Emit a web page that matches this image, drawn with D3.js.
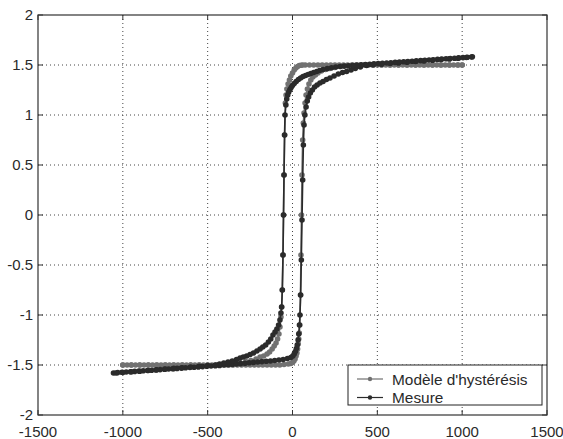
<!DOCTYPE html>
<html><head><meta charset="utf-8">
<script src="https://cdn.jsdelivr.net/npm/d3@7/dist/d3.min.js"></script>
<style>html,body{margin:0;padding:0;background:#fff;}svg{display:block;}</style>
</head><body><svg id="c" width="563" height="439"></svg>
<script>
const xTicks = [-1500,-1000,-500,0,500,1000,1500];
const yTicks = [-2,-1.5,-1,-0.5,0,0.5,1,1.5,2];
const seriesNames = ["Modèle d'hystérésis","Mesure"];

// Modèle d'hystérésis — ascending branch [H, B]
const modelUp = [[-1000,-1.5],[-975,-1.5],[-950,-1.5],[-925,-1.5],[-900,-1.5],[-875,-1.5],[-850,-1.5],[-825,-1.5],[-800,-1.5],[-775,-1.5],[-750,-1.5],[-725,-1.5],[-700,-1.5],[-675,-1.5],[-650,-1.5],[-625,-1.5],[-600,-1.5],[-575,-1.5],[-550,-1.5],[-525,-1.5],[-500,-1.5],[-475,-1.5],[-450,-1.5],[-425,-1.5],[-400,-1.5],[-375,-1.5],[-350,-1.5],[-325,-1.5],[-300,-1.5],[-275,-1.5],[-250,-1.5],[-225,-1.5],[-200,-1.5],[-175,-1.5],[-150,-1.5],[-125,-1.5],[-100,-1.5],[-75,-1.5],[-50,-1.495],[-25,-1.49],[-10,-1.485],[0,-1.475],[8,-1.46],[15,-1.44],[21,-1.41],[26,-1.38],[30,-1.34],[34,-1.29],[37,-1.24],[40,-1.18],[43,-1.1],[47,-0.8],[50,-0.4],[53,0],[56,0.4],[60,0.75],[64,0.92],[68,1.02],[74,1.12],[80,1.2],[88,1.26],[97,1.31],[108,1.35],[120,1.38],[135,1.4],[150,1.42],[170,1.44],[195,1.455],[220,1.465],[250,1.475],[285,1.485],[325,1.49],[375,1.495],[425,1.5],[475,1.5],[525,1.5],[575,1.5],[625,1.5],[675,1.5],[725,1.5],[775,1.5],[825,1.5],[875,1.5],[925,1.5],[975,1.5],[1000,1.5]];
// Modèle d'hystérésis — descending branch [H, B]
const modelDown = [[1000,1.5],[975,1.5],[950,1.5],[925,1.5],[900,1.5],[875,1.5],[850,1.5],[825,1.5],[800,1.5],[775,1.5],[750,1.5],[725,1.5],[700,1.5],[675,1.5],[650,1.5],[625,1.5],[600,1.5],[575,1.5],[550,1.5],[525,1.5],[500,1.5],[475,1.5],[450,1.5],[425,1.5],[400,1.5],[375,1.5],[350,1.5],[325,1.5],[300,1.5],[275,1.5],[250,1.5],[225,1.5],[200,1.5],[175,1.5],[150,1.5],[125,1.5],[100,1.5],[75,1.5],[60,1.5],[50,1.498],[40,1.495],[30,1.485],[20,1.47],[10,1.45],[0,1.42],[-10,1.39],[-18,1.35],[-26,1.31],[-33,1.26],[-38,1.2],[-42,1.12],[-46,0.8],[-50,0.4],[-53,0],[-56,-0.4],[-60,-0.75],[-64,-0.92],[-68,-1.02],[-74,-1.12],[-80,-1.19],[-88,-1.24],[-97,-1.28],[-108,-1.31],[-120,-1.34],[-135,-1.37],[-150,-1.39],[-170,-1.41],[-191,-1.42],[-215,-1.44],[-245,-1.455],[-275,-1.465],[-310,-1.475],[-350,-1.485],[-400,-1.49],[-450,-1.5],[-500,-1.5],[-550,-1.5],[-600,-1.5],[-650,-1.5],[-700,-1.5],[-750,-1.5],[-800,-1.5],[-850,-1.5],[-900,-1.5],[-950,-1.5],[-1000,-1.5]];

// Mesure — ascending branch [H, B]
const measUp = [[-1055,-1.58],[-1030,-1.576],[-1005,-1.573],[-980,-1.57],[-955,-1.567],[-930,-1.564],[-905,-1.561],[-880,-1.558],[-855,-1.555],[-830,-1.552],[-805,-1.549],[-780,-1.546],[-755,-1.543],[-730,-1.54],[-705,-1.537],[-680,-1.534],[-655,-1.531],[-630,-1.528],[-605,-1.525],[-580,-1.522],[-555,-1.519],[-530,-1.516],[-505,-1.513],[-480,-1.51],[-455,-1.507],[-430,-1.504],[-405,-1.5],[-380,-1.497],[-355,-1.494],[-330,-1.49],[-305,-1.486],[-280,-1.482],[-255,-1.478],[-230,-1.474],[-205,-1.47],[-180,-1.466],[-155,-1.463],[-130,-1.46],[-105,-1.455],[-80,-1.45],[-55,-1.445],[-30,-1.435],[-10,-1.425],[2,-1.41],[10,-1.39],[17,-1.365],[23,-1.335],[28,-1.3],[33,-1.25],[37,-1.19],[41,-1.1],[44,-1.0],[48,-0.8],[52,-0.45],[56,-0.05],[60,0.35],[64,0.7],[68,0.9],[73,1.0],[80,1.08],[87,1.14],[95,1.18],[105,1.22],[117,1.25],[130,1.28],[145,1.3],[162,1.32],[180,1.335],[200,1.355],[221,1.37],[245,1.39],[270,1.41],[295,1.425],[319,1.435],[345,1.45],[370,1.465],[400,1.48],[437,1.495],[475,1.502],[525,1.508],[575,1.515],[625,1.521],[675,1.528],[725,1.535],[775,1.541],[825,1.548],[875,1.555],[925,1.561],[975,1.568],[1025,1.575],[1055,1.58]];
// Mesure — descending branch [H, B]
const measDown = [[1060,1.582],[1030,1.577],[1005,1.574],[980,1.571],[955,1.568],[930,1.565],[905,1.562],[880,1.559],[855,1.556],[830,1.553],[805,1.55],[780,1.547],[755,1.544],[730,1.541],[705,1.538],[680,1.535],[655,1.532],[630,1.529],[605,1.526],[580,1.523],[555,1.52],[530,1.517],[505,1.514],[480,1.511],[455,1.508],[430,1.505],[405,1.502],[380,1.499],[355,1.496],[330,1.493],[305,1.489],[280,1.485],[255,1.48],[230,1.472],[205,1.464],[180,1.455],[160,1.445],[143,1.435],[125,1.425],[108,1.415],[92,1.405],[77,1.395],[62,1.385],[48,1.37],[35,1.355],[22,1.335],[10,1.315],[0,1.295],[-8,1.275],[-15,1.255],[-22,1.23],[-28,1.2],[-34,1.16],[-39,1.1],[-44,1.0],[-47,0.8],[-50,0.4],[-53,0],[-56,-0.4],[-60,-0.75],[-64,-0.92],[-68,-0.98],[-74,-1.05],[-82,-1.1],[-92,-1.14],[-103,-1.17],[-115,-1.2],[-128,-1.24],[-142,-1.27],[-158,-1.3],[-175,-1.32],[-191,-1.34],[-210,-1.36],[-230,-1.38],[-250,-1.395],[-270,-1.41],[-290,-1.42],[-309,-1.43],[-330,-1.445],[-355,-1.46],[-380,-1.47],[-405,-1.48],[-430,-1.49],[-455,-1.5],[-500,-1.505],[-550,-1.512],[-600,-1.52],[-650,-1.527],[-700,-1.534],[-750,-1.541],[-800,-1.548],[-850,-1.555],[-900,-1.562],[-950,-1.568],[-1000,-1.575],[-1040,-1.58]];

const svg = d3.select("#c");
const L = 38, R = 547, T = 15, B = 415;
const x = d3.scaleLinear().domain([-1500,1500]).range([L,R]);
const y = d3.scaleLinear().domain([-2,2]).range([B,T]);
const font = "'Liberation Sans', Arial, sans-serif";
const txt = "#2a2a2a";

// grid
const g = svg.append("g");
xTicks.slice(1,-1).forEach(v => g.append("line").attr("x1",x(v)).attr("x2",x(v)).attr("y1",T).attr("y2",B)
  .attr("stroke","#444").attr("stroke-width",1).attr("stroke-dasharray","1,3"));
yTicks.slice(1,-1).forEach(v => g.append("line").attr("y1",y(v)).attr("y2",y(v)).attr("x1",L).attr("x2",R)
  .attr("stroke","#444").attr("stroke-width",1).attr("stroke-dasharray","1,3"));

// curves
const line = d3.line().x(d=>x(d[0])).y(d=>y(d[1]));
function drawSeries(pts, color){
  svg.append("path").attr("d",line(pts)).attr("fill","none").attr("stroke",color).attr("stroke-width",1.6);
  svg.append("g").selectAll("circle").data(pts).join("circle")
    .attr("cx",d=>x(d[0])).attr("cy",d=>y(d[1])).attr("r",2.8).attr("fill",color);
}
const cModel = "#717171", cMeas = "#2b2b2b";
drawSeries(modelUp, cModel);
drawSeries(modelDown, cModel);
drawSeries(measUp, cMeas);
drawSeries(measDown, cMeas);

// axes box and ticks
const ax = svg.append("g");
ax.append("rect").attr("x",L).attr("y",T).attr("width",R-L).attr("height",B-T)
  .attr("fill","none").attr("stroke","#333").attr("stroke-width",1.2);
xTicks.forEach(v=>{
  ax.append("line").attr("x1",x(v)).attr("x2",x(v)).attr("y1",B).attr("y2",B-5).attr("stroke","#333");
  ax.append("line").attr("x1",x(v)).attr("x2",x(v)).attr("y1",T).attr("y2",T+5).attr("stroke","#333");
  ax.append("text").attr("x",x(v)).attr("y",437).attr("text-anchor","middle")
    .attr("font-family",font).attr("font-size",15).attr("fill",txt).text(v);
});
yTicks.forEach(v=>{
  ax.append("line").attr("x1",L).attr("x2",L+5).attr("y1",y(v)).attr("y2",y(v)).attr("stroke","#333");
  ax.append("line").attr("x1",R).attr("x2",R-5).attr("y1",y(v)).attr("y2",y(v)).attr("stroke","#333");
  ax.append("text").attr("x",33).attr("y",y(v)).attr("dy","0.36em").attr("text-anchor","end")
    .attr("font-family",font).attr("font-size",15).attr("fill",txt).text(v);
});

// legend
const lg = svg.append("g");
lg.append("rect").attr("x",348).attr("y",365).attr("width",194).attr("height",40)
  .attr("fill","#fff").attr("stroke","#222").attr("stroke-width",1);
[[cModel,379],[cMeas,397.5]].forEach((c,i)=>{
  lg.append("line").attr("x1",357).attr("x2",383).attr("y1",c[1]).attr("y2",c[1]).attr("stroke",c[0]).attr("stroke-width",1.2);
  lg.append("circle").attr("cx",370).attr("cy",c[1]).attr("r",2.2).attr("fill",c[0]);
  lg.append("text").attr("x",392).attr("y",c[1]).attr("dy","0.36em").attr("font-family",font)
    .attr("font-size",15.4).attr("fill",txt).text(seriesNames[i]);
});
</script></body></html>
